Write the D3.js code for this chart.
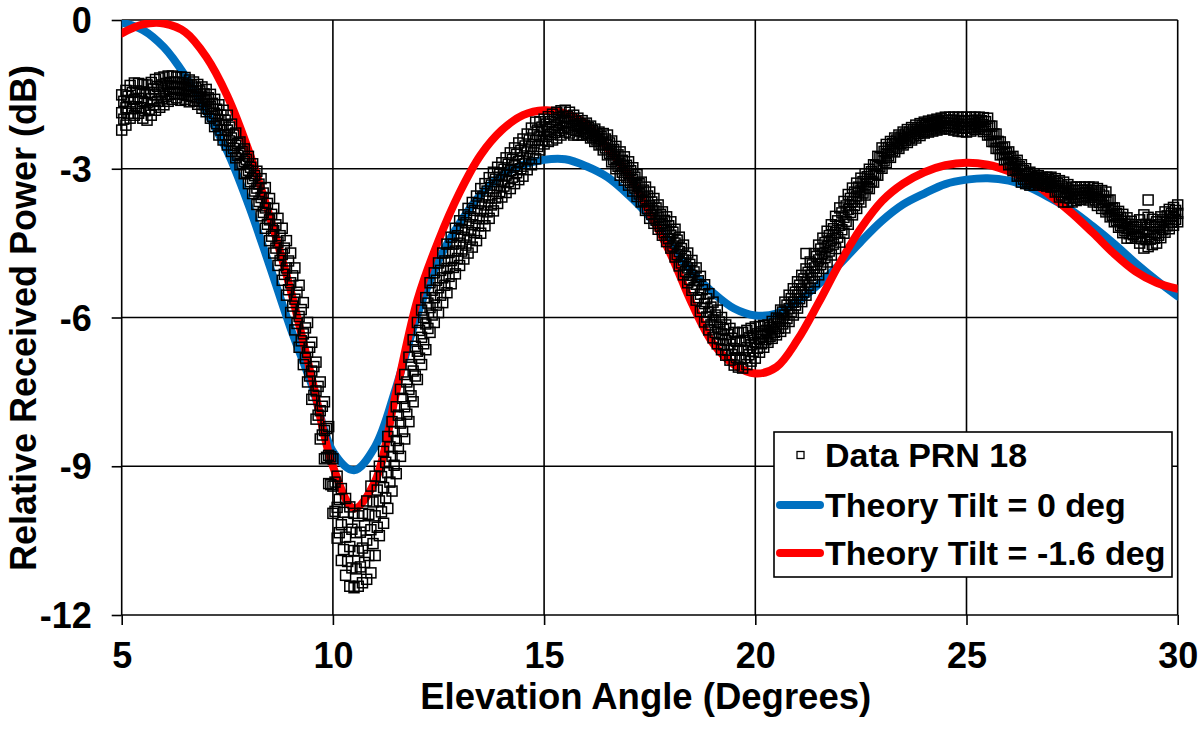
<!DOCTYPE html>
<html>
<head>
<meta charset="utf-8">
<script src="https://cdn.jsdelivr.net/npm/d3@7"></script>
<style>
  html, body { margin: 0; padding: 0; background: #fff; }
  svg text { font-family: "Liberation Sans", Arial, Helvetica, sans-serif; font-weight: bold; fill: #000; }
</style>
</head>
<body>
<svg id="chart" width="1200" height="735"></svg>
<script>
// ---------------- data ----------------
const xTicks = [5, 10, 15, 20, 25, 30];
const yTicks = [-12, -9, -6, -3, 0];
const xTitle = "Elevation Angle (Degrees)";
const yTitle = "Relative Received Power (dB)";
const legendLabels = ["Data PRN 18", "Theory Tilt = 0 deg", "Theory Tilt = -1.6 deg"];

// theory curves sampled every 0.5 deg from 5 to 30
const theoryX = d3.range(51).map(i => 5 + i * 0.5);
const theoryTilt0 = [
  -0.05, -0.2, -0.55, -1.12, -1.85, -2.65, -3.72, -4.95, -6.22, -7.36,
  -8.7, -9.08, -8.6, -7.4, -5.95, -4.85, -4.1, -3.52, -3.13, -2.92,
  -2.82, -2.81, -2.95, -3.17, -3.53, -3.97, -4.55, -5.08, -5.5, -5.82,
  -5.96, -5.92, -5.68, -5.33, -4.92, -4.47, -4.05, -3.72, -3.5, -3.31,
  -3.22, -3.19, -3.24, -3.38, -3.6, -3.85, -4.17, -4.52, -4.9, -5.25, -5.57
];
const theoryTiltNeg16 = [
  -0.27, -0.09, -0.07, -0.24, -0.74, -1.53, -2.62, -3.95, -5.45, -7.22,
  -9.0, -9.85, -9.3, -7.5, -5.65, -4.45, -3.48, -2.72, -2.22, -1.92,
  -1.82, -1.88, -2.1, -2.58, -3.12, -3.9, -4.73, -5.72, -6.52, -6.95,
  -7.13, -7.0, -6.45, -5.7, -4.9, -4.2, -3.65, -3.3, -3.07, -2.93,
  -2.88, -2.92, -3.05, -3.25, -3.55, -3.9, -4.3, -4.72, -5.07, -5.3, -5.42
];

// measured data (PRN 18): several samples per elevation step.
// Whole-step elevations 5.0, 5.1 ... 30.0: upper, middle and lower readings
const dataX = d3.range(251).map(i => +(5 + i * 0.1).toFixed(2));
const dataUpper = [
  -1.51,-1.42,-1.32,-1.27,-1.28,-1.30,-1.31,-1.26,-1.20,-1.17,
  -1.15,-1.13,-1.13,-1.15,-1.15,-1.16,-1.21,-1.25,-1.30,-1.35,
  -1.40,-1.50,-1.60,-1.71,-1.82,-1.92,-2.10,-2.28,-2.46,-2.60,
  -2.75,-2.90,-3.05,-3.20,-3.38,-3.60,-3.80,-4.00,-4.20,-4.45,
  -4.70,-5.00,-5.35,-5.70,-6.10,-6.50,-6.90,-7.30,-7.70,-8.20,
  -8.85,-9.20,-9.45,-9.65,-9.82,-9.95,-10.00,-9.95,-9.70,-9.40,
  -9.20,-9.00,-8.70,-8.40,-8.10,-7.80,-7.45,-7.15,-6.80,-6.45,
  -6.10,-5.85,-5.60,-5.30,-5.10,-4.90,-4.70,-4.52,-4.38,-4.20,
  -4.05,-3.93,-3.80,-3.68,-3.55,-3.40,-3.30,-3.18,-3.07,-2.97,
  -2.88,-2.78,-2.68,-2.58,-2.48,-2.40,-2.30,-2.18,-2.06,-2.05,
  -2.00,-1.95,-1.90,-1.86,-1.83,-1.82,-1.86,-1.92,-1.98,-2.03,
  -2.08,-2.14,-2.20,-2.26,-2.29,-2.32,-2.44,-2.55,-2.66,-2.76,
  -2.86,-2.98,-3.12,-3.27,-3.37,-3.47,-3.60,-3.73,-3.87,-3.97,
  -4.07,-4.22,-4.38,-4.54,-4.70,-4.85,-5.00,-5.17,-5.34,-5.52,
  -5.69,-5.85,-6.00,-6.15,-6.22,-6.30,-6.31,-6.30,-6.26,-6.22,
  -6.19,-6.18,-6.16,-6.15,-6.08,-6.01,-5.85,-5.69,-5.55,-5.42,
  -5.28,-5.15,-5.02,-4.88,-4.71,-4.54,-4.40,-4.26,-4.13,-3.96,
  -3.79,-3.66,-3.52,-3.39,-3.29,-3.19,-3.10,-3.01,-2.92,-2.75,
  -2.58,-2.51,-2.45,-2.38,-2.32,-2.26,-2.21,-2.17,-2.12,-2.09,
  -2.06,-2.04,-2.02,-2.00,-1.98,-1.96,-1.96,-1.96,-1.96,-1.96,
  -1.96,-1.96,-1.96,-1.96,-1.97,-1.98,-2.14,-2.30,-2.46,-2.56,
  -2.66,-2.75,-2.83,-2.92,-3.00,-3.07,-3.10,-3.14,-3.17,-3.17,
  -3.17,-3.20,-3.24,-3.27,-3.32,-3.37,-3.37,-3.37,-3.37,-3.37,
  -3.37,-3.40,-3.44,-3.47,-3.63,-3.79,-3.86,-3.92,-3.99,-4.06,
  -4.13,-4.03,-3.93,-3.98,-4.02,-4.07,-3.97,-3.87,-3.82,-3.78,
  -3.73
];
const dataMiddle = [
  -1.87,-1.77,-1.65,-1.60,-1.58,-1.64,-1.67,-1.59,-1.51,-1.47,
  -1.43,-1.39,-1.37,-1.36,-1.39,-1.38,-1.43,-1.44,-1.50,-1.57,
  -1.63,-1.74,-1.88,-2.02,-2.12,-2.22,-2.38,-2.53,-2.69,-2.85,
  -3.03,-3.20,-3.39,-3.58,-3.79,-4.03,-4.25,-4.48,-4.73,-5.00,
  -5.30,-5.63,-5.98,-6.33,-6.70,-7.08,-7.48,-7.88,-8.28,-8.78,
  -9.40,-9.83,-10.18,-10.43,-10.62,-10.70,-10.71,-10.65,-10.49,-10.28,
  -10.00,-9.70,-9.43,-9.13,-8.80,-8.48,-8.13,-7.80,-7.45,-7.08,
  -6.68,-6.40,-6.13,-5.80,-5.60,-5.40,-5.20,-5.01,-4.85,-4.66,
  -4.50,-4.38,-4.25,-4.13,-4.00,-3.85,-3.73,-3.59,-3.46,-3.34,
  -3.23,-3.13,-3.04,-2.94,-2.85,-2.78,-2.66,-2.55,-2.43,-2.34,
  -2.25,-2.20,-2.16,-2.12,-2.08,-2.04,-2.07,-2.12,-2.15,-2.18,
  -2.20,-2.26,-2.33,-2.39,-2.46,-2.52,-2.65,-2.78,-2.90,-3.00,
  -3.10,-3.22,-3.34,-3.47,-3.61,-3.74,-3.85,-3.98,-4.11,-4.22,
  -4.34,-4.50,-4.67,-4.84,-5.00,-5.15,-5.33,-5.53,-5.72,-5.89,
  -6.05,-6.19,-6.33,-6.46,-6.54,-6.63,-6.66,-6.66,-6.61,-6.55,
  -6.51,-6.44,-6.38,-6.33,-6.25,-6.18,-6.07,-5.95,-5.82,-5.69,
  -5.55,-5.42,-5.29,-5.15,-5.00,-4.84,-4.71,-4.57,-4.44,-4.29,
  -4.14,-3.98,-3.82,-3.66,-3.55,-3.43,-3.32,-3.21,-3.10,-2.94,
  -2.79,-2.70,-2.61,-2.52,-2.46,-2.39,-2.34,-2.30,-2.25,-2.21,
  -2.17,-2.15,-2.13,-2.11,-2.09,-2.07,-2.08,-2.09,-2.10,-2.11,
  -2.11,-2.10,-2.09,-2.07,-2.11,-2.15,-2.30,-2.45,-2.59,-2.69,
  -2.79,-2.90,-2.99,-3.10,-3.15,-3.20,-3.22,-3.24,-3.25,-3.26,
  -3.27,-3.34,-3.41,-3.47,-3.50,-3.52,-3.51,-3.50,-3.48,-3.50,
  -3.52,-3.57,-3.62,-3.67,-3.80,-3.93,-4.02,-4.11,-4.20,-4.23,
  -4.27,-4.27,-4.27,-4.28,-4.28,-4.29,-4.18,-4.08,-4.02,-3.96,
  -3.90
];
const dataLower = [
  -2.22,-2.12,-1.98,-1.92,-1.88,-1.98,-2.02,-1.92,-1.82,-1.76,
  -1.71,-1.64,-1.60,-1.57,-1.62,-1.60,-1.65,-1.62,-1.70,-1.78,
  -1.85,-1.98,-2.15,-2.32,-2.42,-2.52,-2.65,-2.78,-2.92,-3.10,
  -3.30,-3.50,-3.72,-3.95,-4.20,-4.45,-4.70,-4.95,-5.25,-5.55,
  -5.90,-6.25,-6.60,-6.95,-7.30,-7.65,-8.05,-8.45,-8.85,-9.35,
  -9.95,-10.45,-10.90,-11.20,-11.42,-11.45,-11.42,-11.35,-11.28,-11.15,
  -10.80,-10.40,-10.15,-9.85,-9.50,-9.15,-8.80,-8.45,-8.10,-7.70,
  -7.25,-6.95,-6.65,-6.30,-6.10,-5.90,-5.70,-5.50,-5.32,-5.12,
  -4.95,-4.82,-4.70,-4.58,-4.45,-4.30,-4.15,-4.00,-3.85,-3.70,
  -3.57,-3.48,-3.40,-3.30,-3.22,-3.15,-3.02,-2.92,-2.80,-2.62,
  -2.50,-2.45,-2.42,-2.38,-2.32,-2.26,-2.28,-2.32,-2.32,-2.32,
  -2.32,-2.38,-2.45,-2.52,-2.62,-2.72,-2.86,-3.00,-3.13,-3.23,
  -3.33,-3.45,-3.56,-3.67,-3.84,-4.00,-4.10,-4.22,-4.34,-4.47,
  -4.60,-4.78,-4.96,-5.14,-5.30,-5.45,-5.65,-5.88,-6.09,-6.25,
  -6.41,-6.53,-6.65,-6.76,-6.86,-6.96,-7.00,-7.02,-6.95,-6.88,
  -6.82,-6.70,-6.60,-6.50,-6.42,-6.35,-6.28,-6.21,-6.08,-5.95,
  -5.81,-5.68,-5.55,-5.41,-5.28,-5.14,-5.01,-4.88,-4.74,-4.61,
  -4.48,-4.30,-4.12,-3.93,-3.80,-3.67,-3.53,-3.40,-3.27,-3.13,
  -2.99,-2.88,-2.77,-2.66,-2.59,-2.52,-2.47,-2.42,-2.38,-2.33,
  -2.28,-2.26,-2.24,-2.22,-2.20,-2.18,-2.20,-2.22,-2.24,-2.25,
  -2.26,-2.24,-2.21,-2.18,-2.25,-2.32,-2.45,-2.59,-2.72,-2.82,
  -2.92,-3.04,-3.15,-3.27,-3.30,-3.33,-3.33,-3.33,-3.33,-3.35,
  -3.37,-3.47,-3.57,-3.67,-3.67,-3.67,-3.64,-3.62,-3.59,-3.63,
  -3.67,-3.74,-3.80,-3.87,-3.97,-4.07,-4.18,-4.29,-4.40,-4.40,
  -4.40,-4.50,-4.60,-4.57,-4.53,-4.50,-4.39,-4.28,-4.21,-4.14,
  -4.07
];
// Half-step elevations 5.05, 5.15 ... 29.95: upper-inner and lower-inner readings
const dataXHalf = d3.range(250).map(i => +(5.05 + i * 0.1).toFixed(2));
const dataUpperInner = [
  -1.64,-1.54,-1.46,-1.43,-1.45,-1.48,-1.46,-1.39,-1.34,-1.31,
  -1.28,-1.26,-1.25,-1.26,-1.27,-1.30,-1.33,-1.37,-1.43,-1.49,
  -1.57,-1.68,-1.80,-1.92,-2.02,-2.16,-2.32,-2.49,-2.65,-2.81,
  -2.97,-3.14,-3.31,-3.49,-3.70,-3.92,-4.13,-4.35,-4.60,-4.86,
  -5.16,-5.49,-5.84,-6.21,-6.60,-6.99,-7.39,-7.79,-8.24,-8.81,
  -9.32,-9.67,-9.93,-10.13,-10.27,-10.34,-10.33,-10.20,-9.97,-9.72,
  -9.48,-9.21,-8.92,-8.61,-8.30,-7.97,-7.63,-7.30,-6.95,-6.58,
  -6.26,-6.00,-5.71,-5.45,-5.25,-5.05,-4.86,-4.69,-4.52,-4.35,
  -4.22,-4.09,-3.97,-3.84,-3.70,-3.57,-3.45,-3.33,-3.21,-3.11,
  -3.01,-2.91,-2.81,-2.71,-2.63,-2.54,-2.42,-2.31,-2.22,-2.16,
  -2.10,-2.05,-2.01,-1.97,-1.94,-1.95,-1.99,-2.04,-2.09,-2.12,
  -2.17,-2.23,-2.30,-2.35,-2.40,-2.48,-2.61,-2.72,-2.83,-2.93,
  -3.04,-3.17,-3.30,-3.43,-3.55,-3.67,-3.79,-3.92,-4.04,-4.15,
  -4.28,-4.44,-4.61,-4.77,-4.93,-5.08,-5.26,-5.44,-5.62,-5.79,
  -5.95,-6.09,-6.24,-6.34,-6.42,-6.48,-6.48,-6.46,-6.41,-6.37,
  -6.33,-6.29,-6.26,-6.20,-6.13,-6.03,-5.89,-5.75,-5.62,-5.49,
  -5.35,-5.22,-5.09,-4.94,-4.77,-4.62,-4.49,-4.35,-4.21,-4.05,
  -3.89,-3.75,-3.60,-3.47,-3.37,-3.26,-3.16,-3.06,-2.93,-2.77,
  -2.65,-2.57,-2.49,-2.42,-2.36,-2.30,-2.26,-2.21,-2.17,-2.13,
  -2.11,-2.09,-2.07,-2.05,-2.03,-2.02,-2.02,-2.03,-2.03,-2.04,
  -2.03,-2.03,-2.02,-2.03,-2.05,-2.14,-2.30,-2.45,-2.58,-2.68,
  -2.78,-2.87,-2.96,-3.04,-3.11,-3.15,-3.18,-3.20,-3.21,-3.22,
  -3.25,-3.30,-3.35,-3.39,-3.43,-3.44,-3.44,-3.43,-3.43,-3.44,
  -3.47,-3.51,-3.55,-3.64,-3.79,-3.90,-3.98,-4.06,-4.12,-4.17,
  -4.18,-4.13,-4.12,-4.14,-4.17,-4.13,-4.03,-3.95,-3.90,-3.84
];
const dataLowerInner = [
  -2.00,-1.88,-1.79,-1.75,-1.77,-1.83,-1.80,-1.71,-1.64,-1.59,
  -1.54,-1.50,-1.48,-1.49,-1.50,-1.52,-1.54,-1.57,-1.64,-1.71,
  -1.80,-1.94,-2.09,-2.22,-2.32,-2.44,-2.59,-2.73,-2.89,-3.07,
  -3.26,-3.45,-3.66,-3.88,-4.12,-4.36,-4.60,-4.85,-5.13,-5.44,
  -5.77,-6.12,-6.47,-6.82,-7.18,-7.57,-7.97,-8.37,-8.82,-9.37,
  -9.91,-10.34,-10.68,-10.92,-11.05,-11.07,-11.03,-10.94,-10.80,-10.56,
  -10.23,-9.92,-9.64,-9.32,-8.98,-8.64,-8.30,-7.95,-7.58,-7.18,
  -6.82,-6.53,-6.22,-5.95,-5.75,-5.55,-5.35,-5.17,-4.99,-4.81,
  -4.66,-4.54,-4.42,-4.29,-4.15,-4.01,-3.87,-3.73,-3.59,-3.46,
  -3.35,-3.26,-3.17,-3.08,-3.00,-2.90,-2.79,-2.68,-2.55,-2.43,
  -2.35,-2.31,-2.27,-2.23,-2.18,-2.16,-2.20,-2.23,-2.24,-2.26,
  -2.29,-2.36,-2.42,-2.50,-2.58,-2.69,-2.82,-2.95,-3.07,-3.17,
  -3.28,-3.39,-3.51,-3.65,-3.80,-3.92,-4.04,-4.16,-4.29,-4.41,
  -4.56,-4.73,-4.90,-5.07,-5.23,-5.40,-5.60,-5.81,-5.99,-6.15,
  -6.30,-6.43,-6.55,-6.66,-6.75,-6.81,-6.84,-6.81,-6.75,-6.69,
  -6.62,-6.53,-6.45,-6.38,-6.30,-6.22,-6.13,-6.02,-5.89,-5.75,
  -5.62,-5.49,-5.35,-5.21,-5.07,-4.93,-4.79,-4.66,-4.52,-4.38,
  -4.23,-4.06,-3.88,-3.74,-3.61,-3.49,-3.37,-3.25,-3.11,-2.96,
  -2.84,-2.74,-2.64,-2.56,-2.49,-2.43,-2.38,-2.34,-2.29,-2.25,
  -2.22,-2.20,-2.18,-2.16,-2.14,-2.13,-2.15,-2.16,-2.18,-2.18,
  -2.18,-2.16,-2.14,-2.15,-2.21,-2.31,-2.45,-2.59,-2.71,-2.81,
  -2.91,-3.02,-3.13,-3.21,-3.25,-3.27,-3.28,-3.29,-3.30,-3.31,
  -3.36,-3.45,-3.53,-3.58,-3.59,-3.59,-3.57,-3.55,-3.55,-3.58,
  -3.63,-3.68,-3.74,-3.83,-3.94,-4.05,-4.15,-4.25,-4.31,-4.33,
  -4.36,-4.41,-4.43,-4.42,-4.40,-4.34,-4.23,-4.15,-4.08,-4.02
];
// isolated samples away from the main band
const outlierX = [21.2, 29.3];
const outlierY = [-4.71, -3.63];

// ---------------- drawing ----------------
(function draw() {
const svg = d3.select("#chart");
const pL = 121.7, pR = 1177.7, pT = 20, pB = 615;
const x = d3.scaleLinear().domain([5, 30]).range([pL, pR]);
const y = d3.scaleLinear().domain([-12, 0]).range([pB, pT]);
const gridColor = "#000";
const blue = "#0070C0", red = "#FF0000";
const ff = '"Liberation Sans", Arial, Helvetica, sans-serif';

svg.append("rect").attr("width", 1200).attr("height", 735).attr("fill", "#fff");

svg.append("defs").append("clipPath").attr("id", "plotclip")
  .append("rect").attr("x", pL).attr("y", pT).attr("width", pR - pL).attr("height", pB - pT);

// grid lines
const grid = svg.append("g");
grid.selectAll("line.v").data(xTicks.filter(d => d !== 5)).join("line")
  .attr("x1", d => x(d)).attr("x2", d => x(d)).attr("y1", pT).attr("y2", pB)
  .attr("stroke", gridColor).attr("stroke-width", 1.6);
grid.selectAll("line.h").data(yTicks.filter(d => d !== -12)).join("line")
  .attr("x1", pL).attr("x2", pR).attr("y1", d => y(d)).attr("y2", d => y(d))
  .attr("stroke", gridColor).attr("stroke-width", 1.6);

// axes
const fontTick = 36;
const fmt = d => String(d);   // plain hyphen-minus as in the original
const xAxis = d3.axisBottom(x).tickValues(xTicks).tickSize(10).tickPadding(17).tickFormat(fmt);
const yAxis = d3.axisLeft(y).tickValues(yTicks).tickSize(10).tickPadding(20).tickFormat(fmt);
const gx = svg.append("g").attr("transform", `translate(0,${pB})`).call(xAxis);
const gy = svg.append("g").attr("transform", `translate(${pL},0)`).call(yAxis);
[gx, gy].forEach(g => {
  g.select(".domain").attr("stroke", "#000").attr("stroke-width", 1.6);
  g.selectAll(".tick line").attr("stroke", "#000").attr("stroke-width", 1.6);
  g.selectAll(".tick text").attr("font-size", fontTick).attr("font-weight", "bold")
    .attr("font-family", ff).attr("fill", "#000");
});
gx.selectAll(".tick text").attr("dy", "0.71em");
gy.selectAll(".tick text").attr("dy", "0.35em");
gx.select(".domain").attr("d", `M${pL},0H${pR}`);
gy.select(".domain").attr("d", `M0,${pT}V${pB}`);

// axis titles
svg.append("text").attr("x", (pL + pR) / 2 - 4).attr("y", 709)
  .attr("text-anchor", "middle").attr("font-size", 36.5).text(xTitle);
svg.append("text").attr("transform", `translate(36,318) rotate(-90)`)
  .attr("text-anchor", "middle").attr("font-size", 36).text(yTitle);

// theory lines
const plot = svg.append("g").attr("clip-path", "url(#plotclip)");
const line = d3.line().x(d => x(d[0])).y(d => y(d[1])).curve(d3.curveCatmullRom.alpha(0.5));
plot.append("path").datum(theoryX.map((v, i) => [v, theoryTilt0[i]]))
  .attr("d", line).attr("fill", "none").attr("stroke", blue).attr("stroke-width", 8).attr("stroke-linecap", "round");
plot.append("path").datum(theoryX.map((v, i) => [v, theoryTiltNeg16[i]]))
  .attr("d", line).attr("fill", "none").attr("stroke", red).attr("stroke-width", 8).attr("stroke-linecap", "round");

// measured data markers (hollow squares)
const sq = 10;
const pts = [];
[dataUpper, dataMiddle, dataLower].forEach(arr => arr.forEach((v, i) => pts.push([dataX[i], v])));
[dataUpperInner, dataLowerInner].forEach(arr => arr.forEach((v, i) => pts.push([dataXHalf[i], v])));
outlierX.forEach((v, i) => pts.push([v, outlierY[i]]));
svg.append("g").selectAll("rect").data(pts).join("rect")
  .attr("x", d => x(d[0]) - sq / 2).attr("y", d => y(d[1]) - sq / 2)
  .attr("width", sq).attr("height", sq)
  .attr("fill", "none").attr("stroke", "#000").attr("stroke-width", 1.5);

// legend
const lg = svg.append("g");
lg.append("rect").attr("x", 774).attr("y", 432).attr("width", 398).attr("height", 145)
  .attr("fill", "#fff").attr("stroke", "#000").attr("stroke-width", 1.6);
const rowY = [455, 505, 553];
lg.append("rect").attr("x", 797).attr("y", rowY[0] - 3.5).attr("width", 7).attr("height", 7)
  .attr("fill", "none").attr("stroke", "#000").attr("stroke-width", 1.3);
lg.append("line").attr("x1", 780).attr("x2", 820).attr("y1", rowY[1]).attr("y2", rowY[1])
  .attr("stroke", blue).attr("stroke-width", 8).attr("stroke-linecap", "round");
lg.append("line").attr("x1", 780).attr("x2", 820).attr("y1", rowY[2]).attr("y2", rowY[2])
  .attr("stroke", red).attr("stroke-width", 8).attr("stroke-linecap", "round");
lg.selectAll("text.lbl").data(legendLabels).join("text")
  .attr("x", 825).attr("y", (d, i) => rowY[i] + 12)
  .attr("font-size", 34).text(d => d);
})();
</script>
</body>
</html>
